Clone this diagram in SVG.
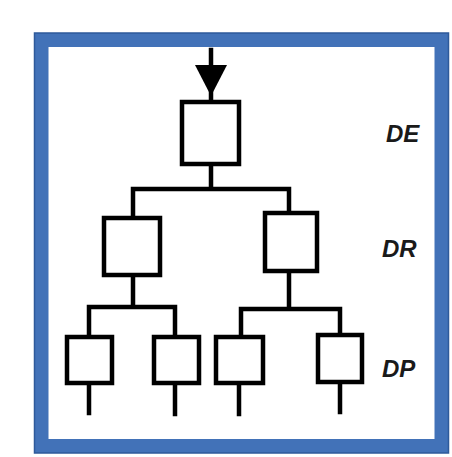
<svg xmlns="http://www.w3.org/2000/svg" width="452" height="457" viewBox="0 0 452 457">
<style>
.box{fill:#fff;stroke:#000;stroke-width:4.5}
.ln{fill:none;stroke:#000;stroke-width:4.5;stroke-linecap:square}
.lbl{font-family:"Liberation Sans",Arial,sans-serif;font-weight:bold;font-style:italic;font-size:24px;fill:#1a1a1a}
</style>
<rect width="452" height="457" fill="#fff"/>
<g id="frame">
<rect x="41.5" y="40" width="400" height="406" fill="none" stroke="#4272B8" stroke-width="14"/>
<rect x="34.5" y="33" width="414" height="420" fill="none" stroke="#2E5A9A" stroke-width="1.5"/>
</g>
<g id="connectors">
<path class="ln" d="M211 50 V100"/>
<polygon points="195,65 227,65 211,96" fill="#000"/>
<path class="ln" d="M211 164 V189 M133 189 H289 M133 189 V218 M289 189 V213"/>
<path class="ln" d="M133 275 V307 M89 307 H175 M89 307 V337 M175 307 V337"/>
<path class="ln" d="M289 271 V309 M241 309 H340 M241 309 V337 M340 309 V335"/>
<path class="ln" d="M89 383 V413 M175 383 V414 M239 383 V414 M340 382 V412"/>
</g>
<g id="DE"><rect class="box" x="182" y="102" width="57" height="62"/></g>
<g id="DR1"><rect class="box" x="104" y="218" width="56" height="57"/></g>
<g id="DR2"><rect class="box" x="265" y="213" width="52" height="58"/></g>
<g id="DP1"><rect class="box" x="67" y="337" width="45" height="46"/></g>
<g id="DP2"><rect class="box" x="154" y="337" width="45" height="46"/></g>
<g id="DP3"><rect class="box" x="216" y="337" width="47" height="46"/></g>
<g id="DP4"><rect class="box" x="318" y="335" width="44" height="47"/></g>
<g id="labels">
<text class="lbl" x="386" y="142">DE</text>
<text class="lbl" x="382" y="257">DR</text>
<text class="lbl" x="382" y="377">DP</text>
</g>
</svg>
